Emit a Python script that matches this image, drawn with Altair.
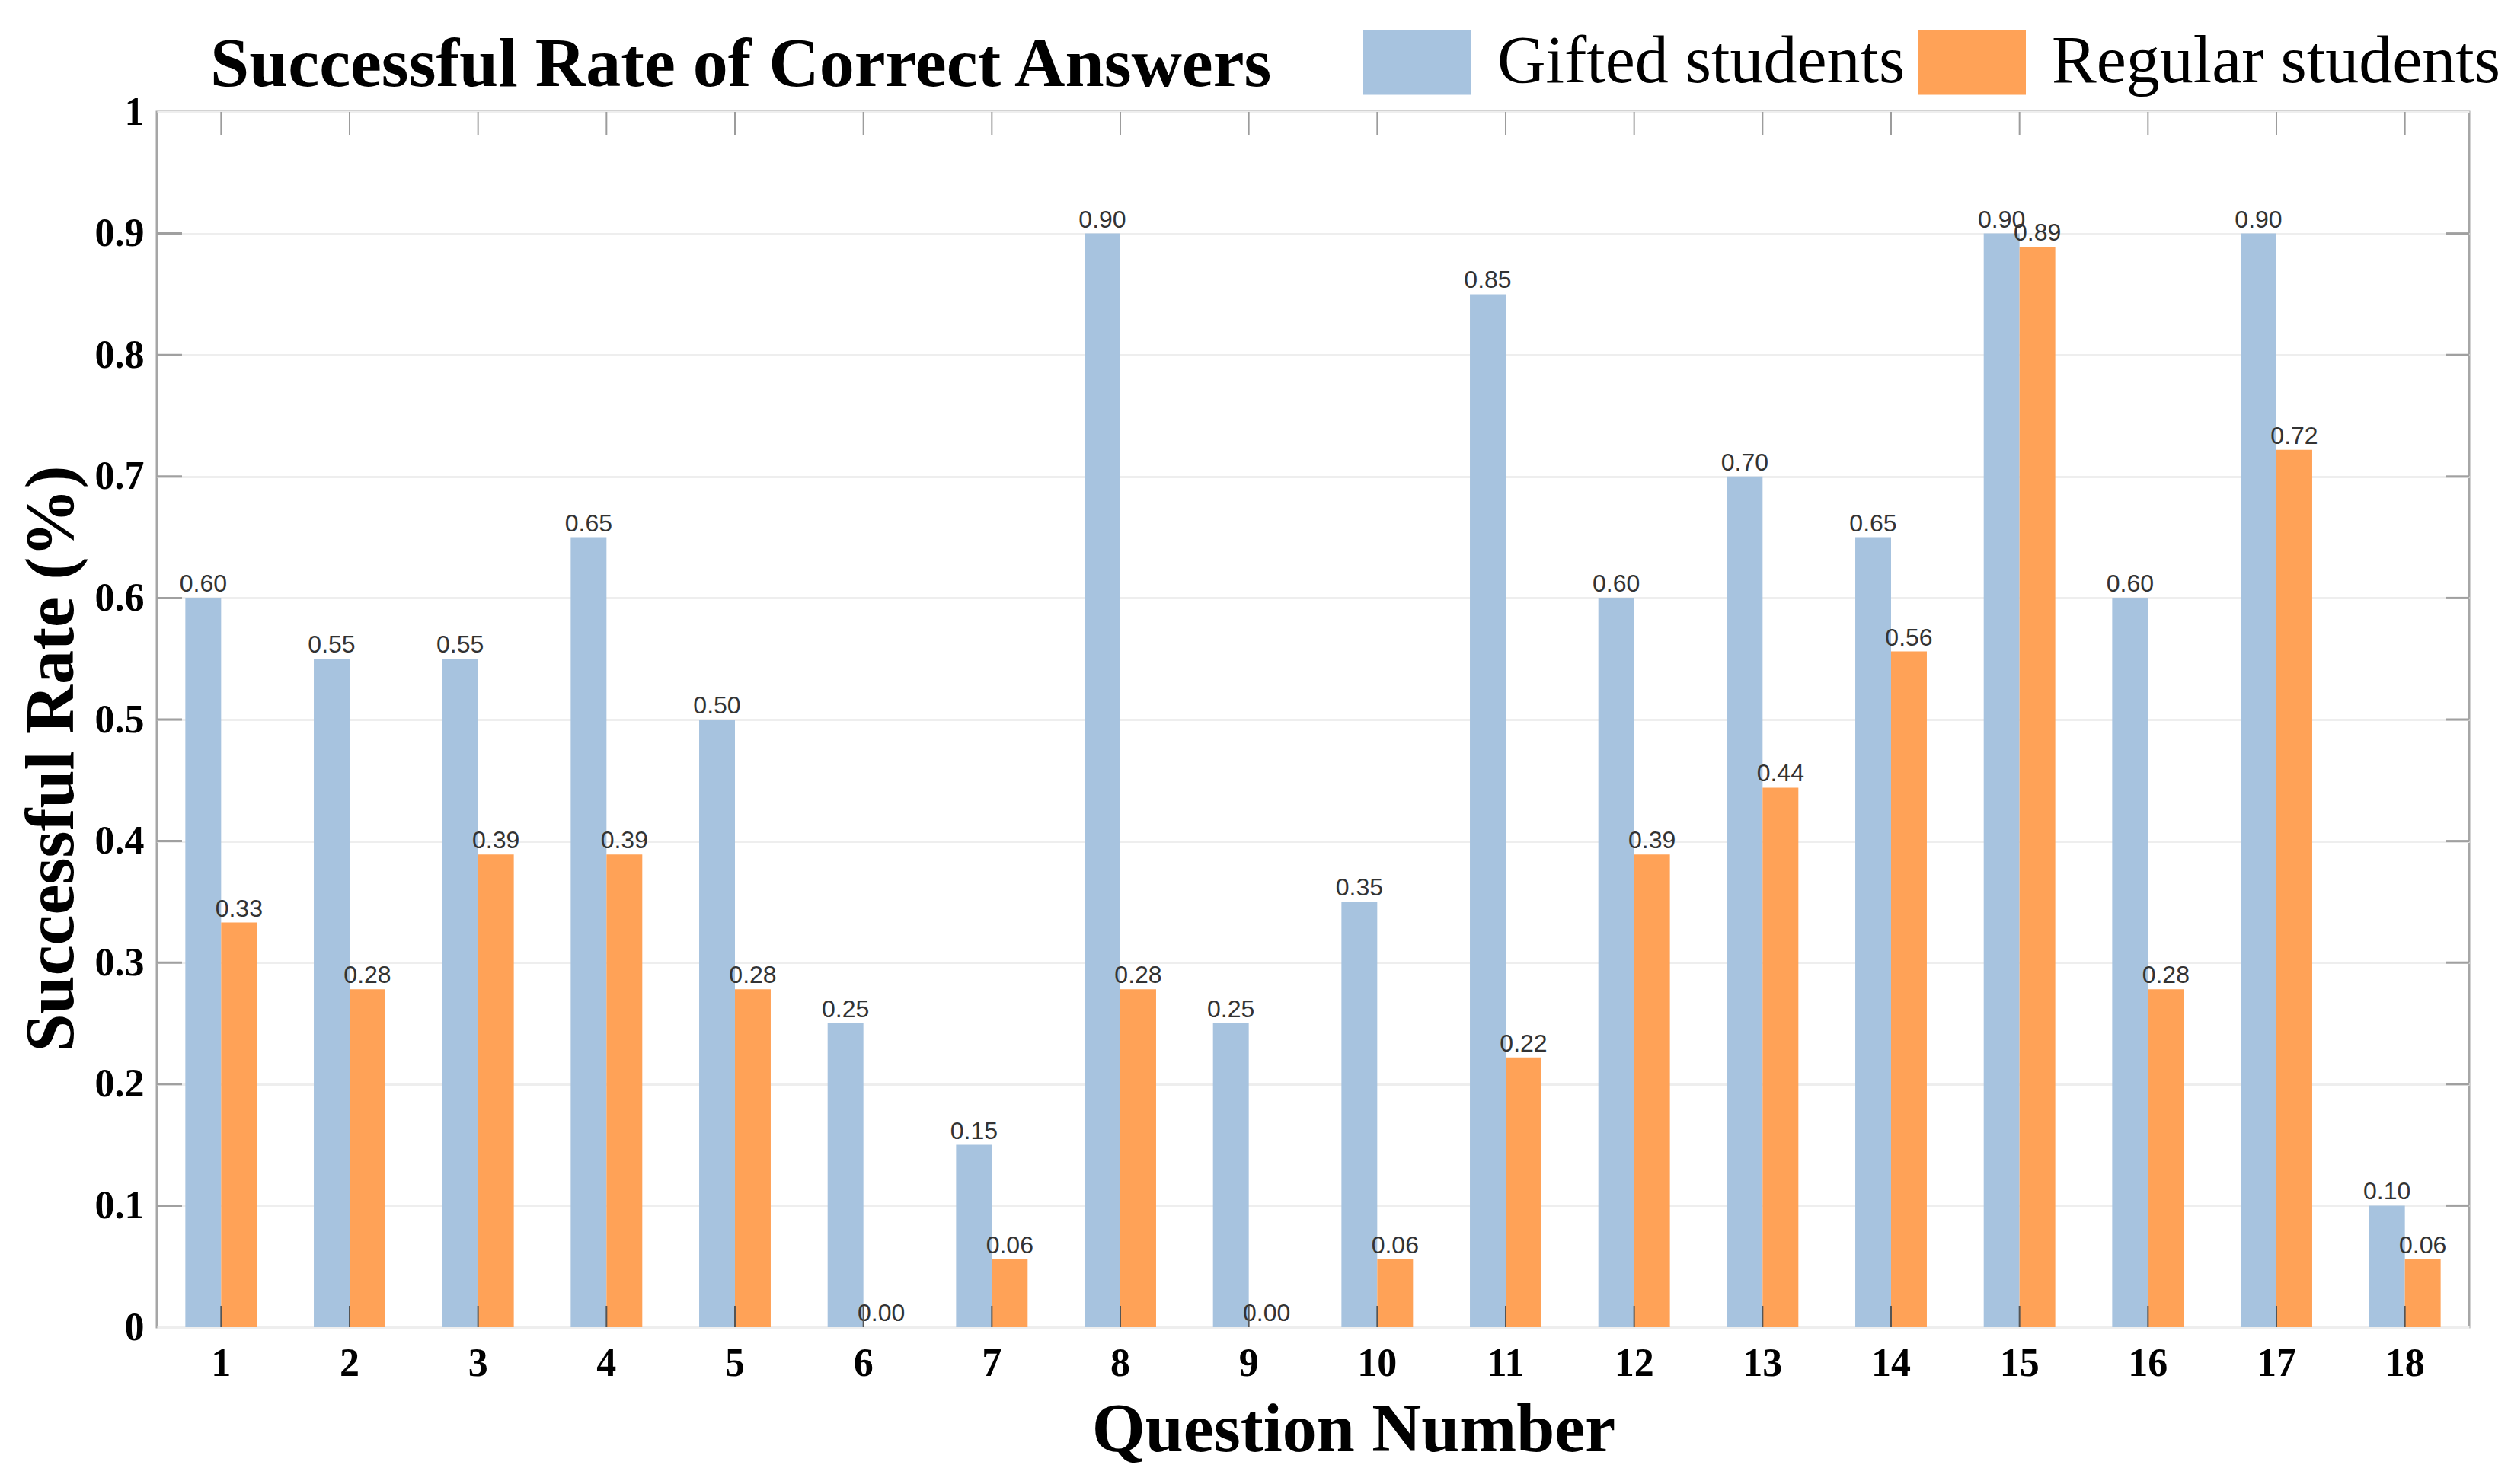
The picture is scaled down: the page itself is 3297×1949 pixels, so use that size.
import altair as alt
import pandas as pd

# ---- data ----
questions = list(range(1, 19))
gifted = [0.60, 0.55, 0.55, 0.65, 0.50, 0.25, 0.15, 0.90, 0.25,
          0.35, 0.85, 0.60, 0.70, 0.65, 0.90, 0.60, 0.90, 0.10]
regular = [0.333, 0.278, 0.389, 0.389, 0.278, 0.0, 0.056, 0.278, 0.0,
           0.056, 0.222, 0.389, 0.444, 0.556, 0.889, 0.278, 0.722, 0.056]
series = ["Gifted students", "Regular students"]
colors = ["#a7c3df", "#ffa257"]
y_ticks = [0, 0.1, 0.2, 0.3, 0.4, 0.5, 0.6, 0.7, 0.8, 0.9, 1]
inner_ticks = [0.1, 0.2, 0.3, 0.4, 0.5, 0.6, 0.7, 0.8, 0.9]
title_text = ["Successful Rate of Correct Answers"]

rows = []
for q, g, r in zip(questions, gifted, regular):
    rows.append({"q": q, "group": series[0], "value": g})
    rows.append({"q": q, "group": series[1], "value": r})
df = pd.DataFrame(rows)
df["label"] = df["value"].map(lambda v: f"{v:.2f}")

qdf = pd.DataFrame({"q": questions})
tdf = pd.DataFrame({"value": inner_ticks})
ttl = pd.DataFrame({"t": title_text})

W, H = 3036, 1596
XT = "Question Number"
YT = "Successful Rate (%)"

x_enc = alt.X("q:O", title=XT,
              scale=alt.Scale(paddingInner=0.443, paddingOuter=0.2215),
              axis=alt.Axis(titleX=W / 2 + 53))
y_enc = alt.Y("value:Q", title=YT,
              scale=alt.Scale(domain=[0, 1], nice=False, zero=True),
              axis=alt.Axis(values=y_ticks, format="~g", grid=True, titleY=849))

bars = alt.Chart(df).mark_bar().encode(
    x=x_enc,
    xOffset=alt.XOffset("group:N", sort=series,
                        scale=alt.Scale(paddingInner=0, paddingOuter=0)),
    y=y_enc,
    color=alt.Color(
        "group:N",
        scale=alt.Scale(domain=series, range=colors),
        legend=alt.Legend(
            title=None, orient="none", direction="horizontal",
            legendX=1584, legendY=-136,
            symbolType="M-1,-0.6H1V0.6H-1Z", symbolSize=20164,
            symbolStrokeWidth=0, symbolOpacity=1,
            labelFont="Liberation Serif", labelFontSize=88,
            labelColor="black", labelOffset=34, labelLimit=2000,
            columnPadding=16, padding=0,
        ),
    ),
)

texts = alt.Chart(df).mark_text(
    font="Liberation Sans", fontSize=32, color="#333333",
    baseline="alphabetic", dy=-8,
).encode(
    x=alt.X("q:O", title=XT),
    xOffset=alt.XOffset("group:N", sort=series),
    y=alt.Y("value:Q", title=YT),
    text="label:N",
)

top_ticks = alt.Chart(qdf).mark_rule(color="#9c9c9c", strokeWidth=2).encode(
    x=alt.X("q:O", title=XT), y=alt.value(0), y2=alt.value(30))
bottom_ticks = alt.Chart(qdf).mark_rule(color="#555555", strokeWidth=2).encode(
    x=alt.X("q:O", title=XT), y=alt.value(H), y2=alt.value(H - 28))
left_ticks = alt.Chart(tdf).mark_rule(color="#a0a0a0", strokeWidth=3).encode(
    y=alt.Y("value:Q", title=YT), x=alt.value(0), x2=alt.value(33))
right_ticks = alt.Chart(tdf).mark_rule(color="#a0a0a0", strokeWidth=3).encode(
    y=alt.Y("value:Q", title=YT), x=alt.value(W), x2=alt.value(W - 30))

title_mark = alt.Chart(ttl).mark_text(
    font="Liberation Serif", fontSize=92, fontWeight="bold", color="black",
    align="left", baseline="alphabetic",
).encode(x=alt.value(70), y=alt.value(-34), text="t:N")

chart = (
    alt.layer(bars, texts, top_ticks, bottom_ticks, left_ticks, right_ticks,
              title_mark)
    .properties(
        width=W, height=H,
        autosize=alt.AutoSizeParams(type="none"),
        padding={"left": 198, "top": 139, "right": 47, "bottom": 198},
    )
    .configure_view(stroke="#a6a6a6", strokeWidth=3)
    .configure_axis(
        labelFont="Liberation Serif", labelFontWeight="bold",
        labelFontSize=52, labelColor="black",
        titleFont="Liberation Serif", titleFontWeight="bold",
        titleFontSize=90, titleColor="black",
        ticks=False, domain=False,
        gridColor="#eeeeee", gridWidth=3,
    )
    .configure_axisX(grid=False, labelAngle=0, labelPadding=22, titlePadding=18)
    .configure_axisY(labelPadding=17, titlePadding=10)
)

chart.save("out.html", embed_options={"renderer": "svg", "actions": False})
